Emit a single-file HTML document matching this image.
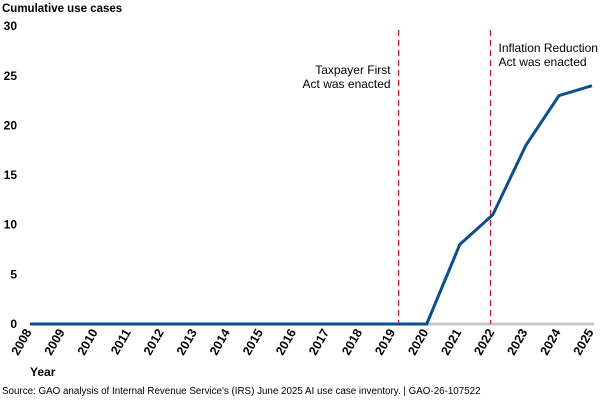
<!DOCTYPE html>
<html><head><meta charset="utf-8"><style>
body{margin:0;background:#fff;}
svg{display:block;font-family:"Liberation Sans",Arial,sans-serif;}
</style></head><body>
<svg id="chart" width="600" height="400" viewBox="0 0 600 400">
<text x="2" y="12" font-size="11.5" font-weight="bold" fill="#000">Cumulative use cases</text>
<g id="yticks"></g>
<g id="xticks"></g>
<line x1="30" y1="324" x2="594" y2="324" stroke="#c8c8c8" stroke-width="3"/>
<g id="events"></g>
<polyline id="series" fill="none" stroke="#0b4f8a" stroke-width="3" stroke-linejoin="miter"/>
<text x="30" y="376" font-size="12" font-weight="bold">Year</text>
<text x="2" y="394" font-size="9.8" fill="#000">Source: GAO analysis of Internal Revenue Service's (IRS) June 2025 AI use case inventory.  |  GAO-26-107522</text>
</svg>
<script>
const years=[2008,2009,2010,2011,2012,2013,2014,2015,2016,2017,2018,2019,2020,2021,2022,2023,2024,2025];
const values=[0,0,0,0,0,0,0,0,0,0,0,0,0,8,11,18,23,24];
const yTicks=[0,5,10,15,20,25,30];
const eventYears=[2019.15,2021.93];
const eventLabels=[["Taxpayer First","Act was enacted"],["Inflation Reduction","Act was enacted"]];
const NS="http://www.w3.org/2000/svg";
const xs=y=>30+(y-2008)*33.06;
const ys=v=>324-v*9.93;
const yt=document.getElementById('yticks');
yTicks.forEach(t=>{const e=document.createElementNS(NS,'text');
e.setAttribute('x',17);e.setAttribute('y',ys(t)+4);e.setAttribute('text-anchor','end');
e.setAttribute('font-size','12');e.setAttribute('font-weight','bold');e.textContent=t;


yt.appendChild(e);});
const xt=document.getElementById('xticks');
years.forEach(y=>{const e=document.createElementNS(NS,'text');
const x=xs(y)+2,yy=332;
e.setAttribute('x',x);e.setAttribute('y',yy);e.setAttribute('text-anchor','end');
e.setAttribute('transform',`rotate(-60 ${x} ${yy})`);
e.setAttribute('font-size','12.5');e.setAttribute('font-weight','bold');e.textContent=y;


xt.appendChild(e);});
const ev=document.getElementById('events');
eventYears.forEach((y,i)=>{const l=document.createElementNS(NS,'line');
l.setAttribute('x1',xs(y));l.setAttribute('x2',xs(y));l.setAttribute('y1',30);l.setAttribute('y2',324);
l.setAttribute('stroke','#b5162b');l.setAttribute('stroke-width','1.2');l.setAttribute('stroke-dasharray','6 4');


ev.appendChild(l);
const t=document.createElementNS(NS,'text');
const left=i===0;
t.setAttribute('font-size','12');
t.setAttribute('text-anchor',left?'end':'start');
const tx=left?xs(y)-8:xs(y)+8, ty=left?74:52;
eventLabels[i].forEach((s,k)=>{const sp=document.createElementNS(NS,'tspan');
sp.setAttribute('x',tx);sp.setAttribute('y',ty+k*14);sp.textContent=s;t.appendChild(sp);});


ev.appendChild(t);});
document.getElementById('series').setAttribute('points',years.map((y,i)=>xs(y)+','+ys(values[i])).join(' '));
</script>
</body></html>
